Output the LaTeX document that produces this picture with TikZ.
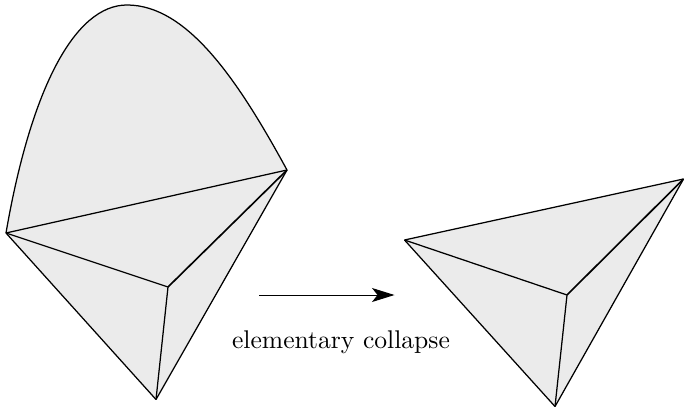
\documentclass[tikz,border=0pt]{standalone}
\usetikzlibrary{arrows.meta}
\tikzset{
  face/.style={fill=black!8,draw=none},
  edge/.style={draw=black,line width=0.5pt,line join=round},
  heavyedge/.style={draw=black,line width=0.65pt,line join=round},
  move/.style={draw=black,line width=0.4pt,-{Stealth[length=9pt,width=5.6pt,inset=2.2pt]}}
}
\begin{document}
\begin{tikzpicture}[x=0.4pt,y=-0.4pt]
\useasboundingbox (0,0) rectangle (684,412);
% left complex
\coordinate (la) at (6,233);
\coordinate (lb) at (287,170);
\coordinate (lc) at (168,287);
\coordinate (ld) at (156,399.5);
\coordinate (lt) at (127,5);
\path[face] (la) .. controls (31,88) and (75,5) .. (lt) .. controls (188,5) and (239,82) .. (lb) -- (ld) -- cycle;
\draw[edge] (la) .. controls (31,88) and (75,5) .. (lt) .. controls (188,5) and (239,82) .. (lb);
\draw[edge] (la) -- (lb);
\draw[edge] (la) -- (lc);
\draw[heavyedge] (lb) -- (lc);
\draw[edge] (lc) -- (ld);
\draw[edge] (la) -- (ld);
\draw[edge] (lb) -- (ld);
% right complex
\coordinate (ra) at (404.5,240);
\coordinate (rb) at (683.5,179);
\coordinate (rc) at (567,295);
\coordinate (rd) at (555,406.5);
\path[face] (ra) -- (rb) -- (rd) -- cycle;
\draw[edge] (ra) -- (rb);
\draw[edge] (ra) -- (rc);
\draw[heavyedge] (rb) -- (rc);
\draw[edge] (rc) -- (rd);
\draw[edge] (ra) -- (rd);
\draw[edge] (rb) -- (rd);
% arrow and label
\coordinate (s) at (259,295);
\coordinate (e) at (394.5,295);
\draw[move] (s) -- (e);
\node[inner sep=0pt,scale=1.024] (lab) at (341,342) {elementary collapse};
\end{tikzpicture}
\end{document}
